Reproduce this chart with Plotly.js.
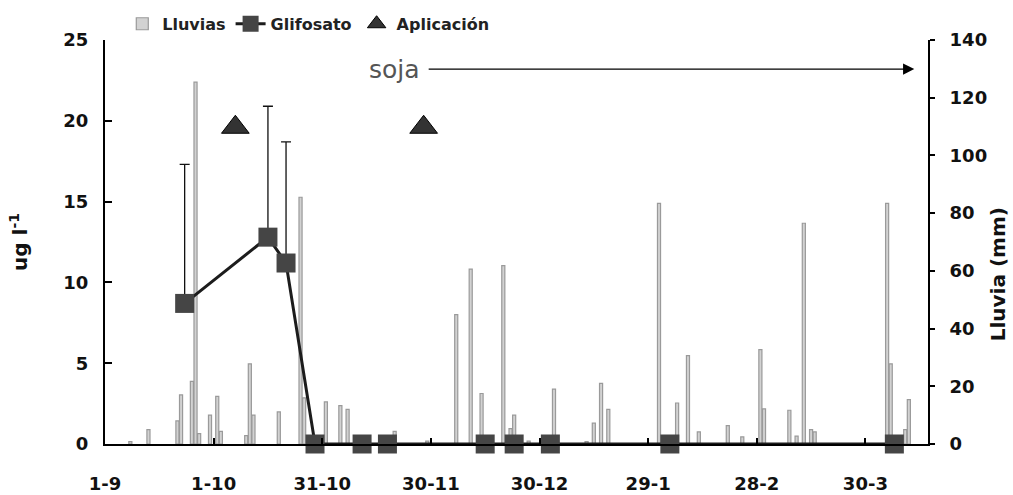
<!DOCTYPE html>
<html>
<head>
<meta charset="utf-8">
<script src="https://cdn.plot.ly/plotly-3.0.1.min.js"></script>
<style>
  html, body { margin: 0; padding: 0; background: #ffffff; }
  #chart { width: 1013px; height: 495px; }
</style>
</head>
<body>
<div id="chart"></div>
<script>
// ---- Data ----
const lluviaFechas = [
  '2005-09-08','2005-09-13','2005-09-21','2005-09-22','2005-09-25','2005-09-26','2005-09-27','2005-09-30',
  '2005-10-02','2005-10-03','2005-10-10','2005-10-11','2005-10-12','2005-10-19','2005-10-25','2005-10-26',
  '2005-11-01','2005-11-05','2005-11-07','2005-11-20','2005-11-29',
  '2005-12-07','2005-12-11','2005-12-14','2005-12-20','2005-12-22','2005-12-23','2005-12-27',
  '2006-01-03','2006-01-12','2006-01-14','2006-01-16','2006-01-18',
  '2006-02-01','2006-02-06','2006-02-09','2006-02-12','2006-02-20','2006-02-24',
  '2006-03-01','2006-03-02','2006-03-09','2006-03-11','2006-03-13','2006-03-15','2006-03-16',
  '2006-04-05','2006-04-06','2006-04-10','2006-04-11'
];
const lluviaMm = [
  0.8, 5, 8, 17, 21.7, 125.4, 3.6, 10,
  16.5, 4.4, 2.9, 27.8, 10, 11.1, 85.5, 16,
  14.6, 13.3, 12, 4.4, 1,
  44.8, 60.6, 17.5, 61.8, 5.3, 10, 1,
  19, 0.8, 7.2, 21, 12,
  83.4, 14.2, 30.6, 4.2, 6.4, 2.5,
  32.7, 12.2, 11.7, 2.7, 76.5, 5, 4.2,
  83.4, 27.8, 5, 15.4
];

const glifFechas = [
  '2005-09-23','2005-10-16','2005-10-21','2005-10-29','2005-11-11','2005-11-18',
  '2005-12-15','2005-12-23','2006-01-02','2006-02-04','2006-04-07'
];
const glifValores = [8.7, 12.8, 11.2, 0, 0, 0, 0, 0, 0, 0, 0];
const glifError  = [8.6, 8.1, 7.5, 0, 0, 0, 0, 0, 0, 0, 0];

const aplicFechas = ['2005-10-07', '2005-11-28'];
const aplicValores = [19.6, 19.6];

const tickFechas = ['2005-09-01','2005-10-01','2005-10-31','2005-11-30','2005-12-30','2006-01-29','2006-02-28','2006-03-30'];
const tickTextos = ['1-9','1-10','31-10','30-11','30-12','29-1','28-2','30-3'];

const sojaTexto = 'soja';
const sojaDesde = '2005-11-20';
const sojaHasta = '2006-04-12 12:00';
const sojaNivel = 23.2;

// ---- Styles ----
const wide = 'DejaVu Sans, Verdana, sans-serif';
const tickFont = { family: wide, size: 18, color: '#111', weight: 'bold' };

const traces = [
  {
    type: 'bar',
    name: 'Lluvias',
    x: lluviaFechas,
    y: lluviaMm,
    yaxis: 'y',
    width: 86400000 * 0.85,
    marker: { color: '#d2d2d2', line: { color: '#9a9a9a', width: 1.2 } },
    hoverinfo: 'x+y'
  },
  {
    type: 'scatter',
    mode: 'lines+markers',
    name: 'Glifosato',
    x: glifFechas,
    y: glifValores,
    yaxis: 'y2',
    cliponaxis: false,
    line: { color: '#1c1c1c', width: 3 },
    marker: { symbol: 'square', size: 19, color: '#454545' },
    error_y: {
      type: 'data', symmetric: false,
      array: glifError,
      arrayminus: glifValores.map(() => 0),
      color: '#111', thickness: 1.3, width: 5
    }
  },
  {
    type: 'scatter',
    mode: 'markers',
    name: 'Aplicación',
    x: aplicFechas,
    y: aplicValores,
    yaxis: 'y2',
    marker: { symbol: 'triangle-up', size: 24, color: '#333333', line: { color: '#000', width: 1 } }
  }
];

const layout = {
  width: 1013,
  height: 495,
  margin: { l: 105, r: 85, t: 40, b: 51, autoexpand: false },
  paper_bgcolor: '#ffffff',
  plot_bgcolor: '#ffffff',
  showlegend: true,
  legend: {
    orientation: 'h',
    x: 0.021, xanchor: 'left',
    y: 1.04, yanchor: 'middle',
    font: { family: wide, size: 16, color: '#222', weight: 'bold' },
    bgcolor: 'rgba(0,0,0,0)',
    itemwidth: 30,
    tracegroupgap: 0
  },
  bargap: 0,
  xaxis: {
    type: 'date',
    range: ['2005-09-01', '2006-04-16 07:00'],
    tickmode: 'array',
    tickvals: tickFechas,
    ticktext: tickTextos,
    ticks: 'inside',
    ticklen: 6,
    tickwidth: 2,
    tickcolor: '#000',
    showline: true,
    linecolor: '#000',
    linewidth: 2,
    showgrid: false,
    zeroline: false,
    tickfont: tickFont,
    ticklabelstandoff: 22
  },
  yaxis: {
    side: 'right',
    range: [0, 140],
    tickmode: 'array',
    tickvals: [0, 20, 40, 60, 80, 100, 120, 140],
    ticks: 'outside',
    ticklen: 5,
    tickwidth: 2,
    tickcolor: '#000',
    showline: true,
    linecolor: '#000',
    linewidth: 2,
    showgrid: false,
    zeroline: false,
    tickfont: tickFont,
    ticklabelstandoff: 11
  },
  yaxis2: {
    overlaying: 'y',
    side: 'left',
    range: [0, 25],
    tickmode: 'array',
    tickvals: [0, 5, 10, 15, 20, 25],
    ticks: 'inside',
    ticklen: 7,
    tickwidth: 2,
    tickcolor: '#000',
    showline: true,
    linecolor: '#000',
    linewidth: 2,
    showgrid: false,
    zeroline: false,
    tickfont: tickFont,
    ticklabelstandoff: 11,
    title: {
      text: 'ug l<sup>-1</sup>',
      font: { family: wide, size: 20, color: '#111', weight: 'bold' },
      standoff: 30
    }
  },
  annotations: [
    {
      x: sojaHasta, y: sojaNivel, xref: 'x', yref: 'y2',
      ax: sojaDesde, ay: sojaNivel, axref: 'x', ayref: 'y2',
      text: sojaTexto, showarrow: true,
      font: { family: wide, size: 25, color: '#555' },
      borderpad: 0, startstandoff: 8,
      arrowhead: 2, arrowsize: 1.6, arrowwidth: 1.4, arrowcolor: '#000'
    },
    {
      x: 1.085, y: 0.42, xref: 'paper', yref: 'paper',
      text: 'Lluvia (mm)', showarrow: false, textangle: -90,
      font: { family: wide, size: 20, color: '#111', weight: 'bold' },
      xanchor: 'center', yanchor: 'middle'
    }
  ]
};

Plotly.newPlot('chart', traces, layout, { displayModeBar: false, staticPlot: true });
</script>
</body>
</html>
